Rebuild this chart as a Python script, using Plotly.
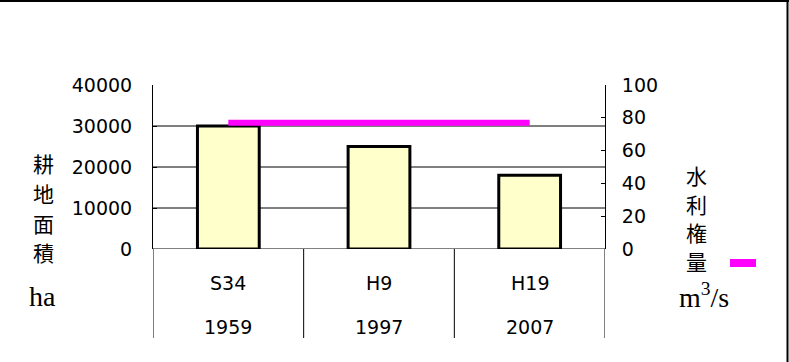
import plotly.graph_objects as go

# ---- data ----
categories = ["S34", "H9", "H19"]
years = ["1959", "1997", "2007"]
farmland_ha = [30000, 25000, 18000]
water_rights = [77, 77, 77]
left_ticks = [0, 10000, 20000, 30000, 40000]
right_ticks = [0, 20, 40, 60, 80, 100]
left_title = "耕地面積"
right_title = "水利権量"

# ---- geometry helpers (pixels -> paper) ----
W, H = 789, 362
L, R, T, B = 153, 184, 85, 113
PW, PH = W - L - R, H - T - B


def px(x):
    return (x - L) / PW


def py(y):
    return (H - B - y) / PH


NUM_FONT = dict(family="DejaVu Sans", size=19, color="black")
CJK_FONT = dict(family="Noto Sans CJK JP", size=21, color="black")
SERIF_FONT = dict(family="Liberation Serif", size=28, color="black")

fig = go.Figure()
fig.add_trace(go.Bar(
    x=categories, y=farmland_ha, width=0.41,
    marker=dict(color="#FFFFCC", line=dict(color="black", width=3)),
    showlegend=False,
))
fig.add_trace(go.Scatter(
    x=categories, y=water_rights, yaxis="y2", mode="lines",
    line=dict(color="#FF00FF", width=6), showlegend=False,
))

shapes = []
# horizontal gridlines (not at top)
for v in left_ticks[:-1]:
    shapes.append(dict(type="line", xref="paper", yref="y", x0=0, x1=1, y0=v, y1=v,
                       line=dict(color="black", width=1), layer="below"))
# category separators extending below the axis
n = len(categories)
for i in range(n + 1):
    xv = i - 0.5
    shapes.append(dict(type="line", xref="x", yref="paper", x0=xv, x1=xv,
                       y0=py(338), y1=0, line=dict(color="black", width=1)))
# legend swatch
shapes.append(dict(type="rect", xref="paper", yref="paper", x0=px(730), x1=px(756),
                   y0=py(267), y1=py(259), fillcolor="#FF00FF", line=dict(width=0)))
# outer frame (top and right)
shapes.append(dict(type="line", xref="paper", yref="paper", x0=px(0), x1=px(789),
                   y0=py(1), y1=py(1), line=dict(color="black", width=2)))
shapes.append(dict(type="line", xref="paper", yref="paper", x0=px(787.5), x1=px(787.5),
                   y0=py(1), y1=py(362), line=dict(color="black", width=2)))

annotations = []
for c, yr in zip(categories, years):
    annotations.append(dict(x=c, y=py(283), xref="x", yref="paper", text=c,
                            showarrow=False, font=NUM_FONT, xanchor="center", yanchor="middle"))
    annotations.append(dict(x=c, y=py(327), xref="x", yref="paper", text=yr,
                            showarrow=False, font=NUM_FONT, xanchor="center", yanchor="middle"))
# vertical (stacked) axis titles, one glyph per line
for ch, yy in zip(left_title, [163, 193, 223, 252]):
    annotations.append(dict(x=px(43), y=py(yy), xref="paper", yref="paper", text=ch,
                            showarrow=False, font=CJK_FONT, borderpad=0,
                            xanchor="center", yanchor="middle"))
for ch, yy in zip(right_title, [175, 204, 232, 260.5]):
    annotations.append(dict(x=px(696), y=py(yy), xref="paper", yref="paper", text=ch,
                            showarrow=False, font=CJK_FONT, borderpad=0,
                            xanchor="center", yanchor="middle"))
annotations.append(dict(x=px(42), y=py(296), xref="paper", yref="paper", text="ha",
                        showarrow=False, font=SERIF_FONT, xanchor="center", yanchor="middle"))
annotations.append(dict(x=px(704), y=py(295), xref="paper", yref="paper", text="m<sup>3</sup>/s",
                        showarrow=False, font=SERIF_FONT, xanchor="center", yanchor="middle"))

fig.update_layout(
    width=W, height=H, autosize=False,
    margin=dict(l=L, r=R, t=T, b=B, pad=0),
    paper_bgcolor="white", plot_bgcolor="white",
    xaxis=dict(type="category", range=[-0.5, n - 0.5], showticklabels=False,
               showgrid=False, zeroline=False, showline=False, ticks=""),
    yaxis=dict(range=[0, 40000], tickvals=left_ticks, ticktext=[str(v) for v in left_ticks],
               showgrid=False, zeroline=False, showline=True, linecolor="black", linewidth=1,
               ticks="inside", ticklen=4, tickcolor="black", tickfont=NUM_FONT,
               ticklabelstandoff=16),
    yaxis2=dict(range=[0, 100], tickvals=right_ticks, overlaying="y", side="right",
                showgrid=False, zeroline=False, showline=True, linecolor="black", linewidth=1,
                ticks="inside", ticklen=4, tickcolor="black", tickfont=NUM_FONT,
                ticklabelstandoff=12),
    shapes=shapes, annotations=annotations, showlegend=False,
)

fig.write_html("out.html")
